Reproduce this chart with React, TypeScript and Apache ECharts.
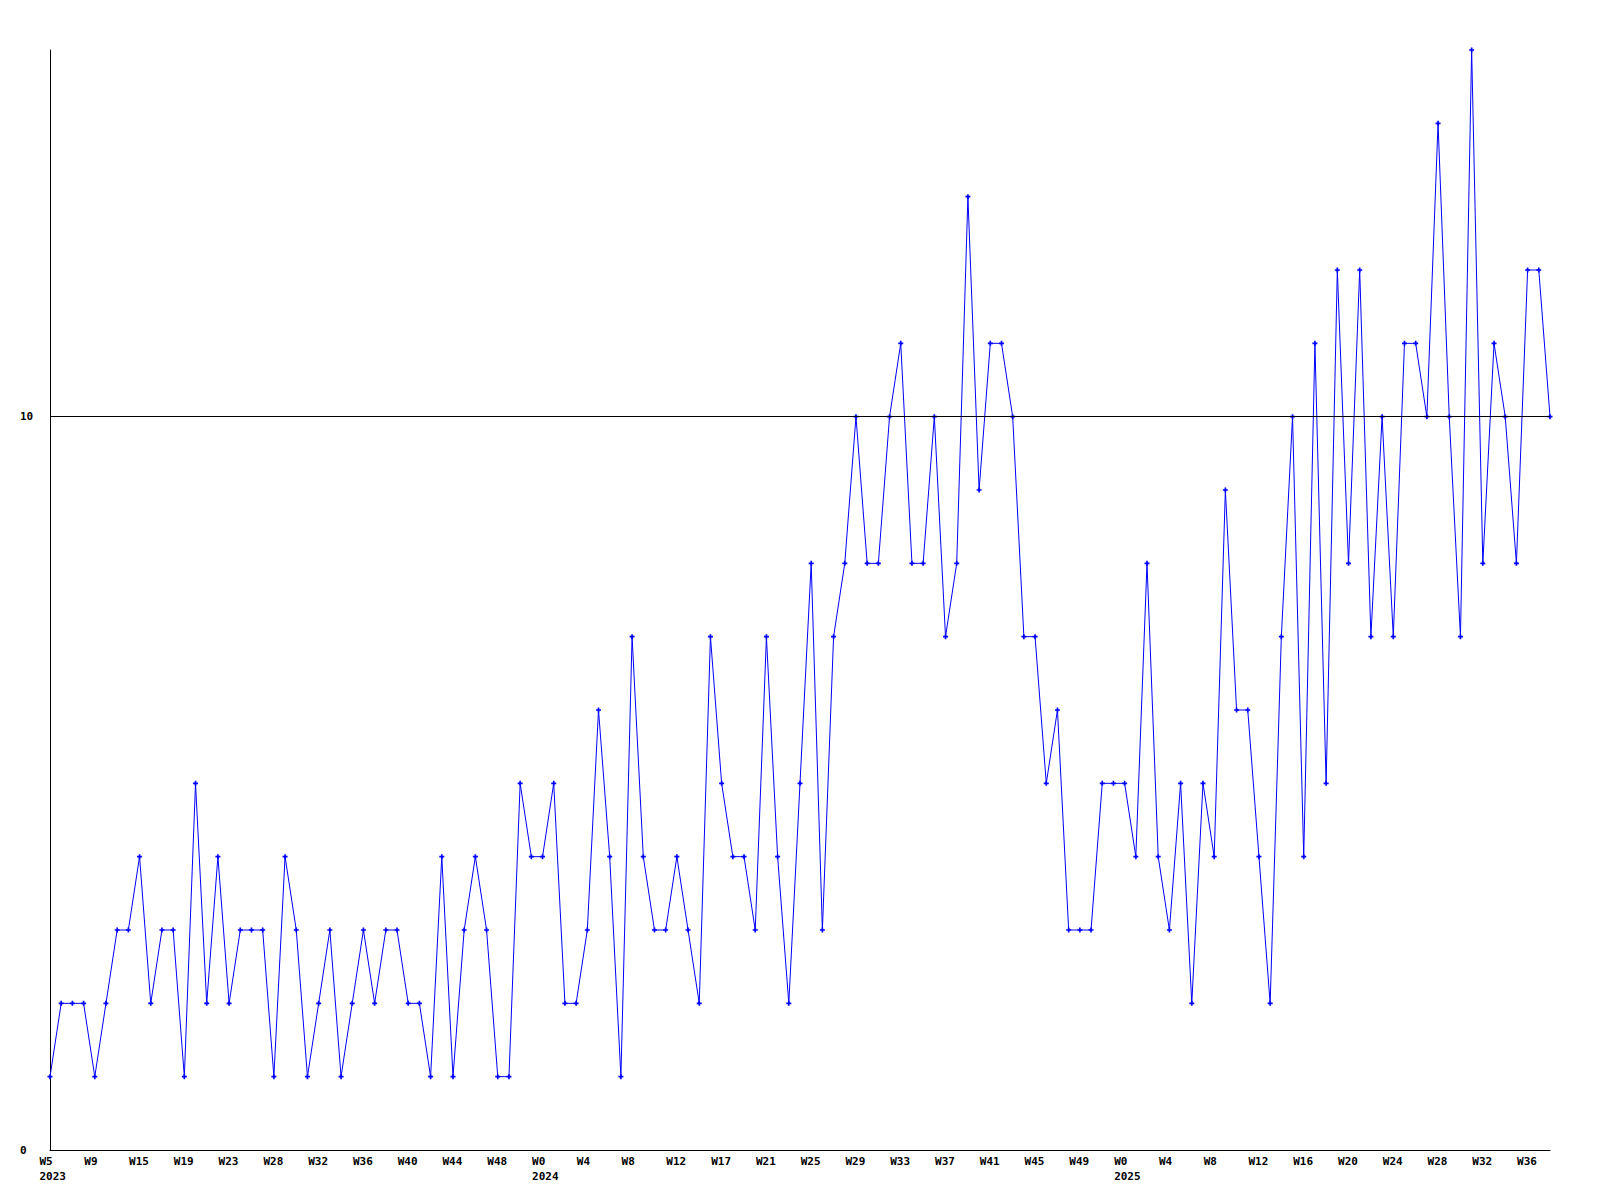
import React, { useEffect, useRef } from "react";
import * as echarts from "echarts";

// Weekly values (one per point, left to right)
const values: number[] = [
  1, 2, 2, 2, 1, 2, 3, 3, 4, 2, 3, 3, 1, 5, 2, 4, 2, 3, 3, 3,
  1, 4, 3, 1, 2, 3, 1, 2, 3, 2, 3, 3, 2, 2, 1, 4, 1, 3, 4, 3,
  1, 1, 5, 4, 4, 5, 2, 2, 3, 6, 4, 1, 7, 4, 3, 3, 4, 3, 2, 7,
  5, 4, 4, 3, 7, 4, 2, 5, 8, 3, 7, 8, 10, 8, 8, 10, 11, 8, 8, 10,
  7, 8, 13, 9, 11, 11, 10, 7, 7, 5, 6, 3, 3, 3, 5, 5, 5, 4, 8, 4,
  3, 5, 2, 5, 4, 9, 6, 6, 4, 2, 7, 10, 4, 11, 5, 12, 8, 12, 7, 10,
  7, 11, 11, 10, 14, 10, 7, 15, 8, 11, 10, 8, 12, 12, 10,
];

// Tick labels shown every 4th point
const tickLabels: string[] = [
  "W5\n2023", "W9", "W15", "W19", "W23", "W28", "W32", "W36", "W40", "W44", "W48",
  "W0\n2024", "W4", "W8", "W12", "W17", "W21", "W25", "W29", "W33", "W37", "W41", "W45", "W49",
  "W0\n2025", "W4", "W8", "W12", "W16", "W20", "W24", "W28", "W32", "W36",
];

const categories: string[] = values.map((_, i) => String(i));
const refLine = 10;

export default function App() {
  const ref = useRef<HTMLDivElement>(null);
  useEffect(() => {
    if (!ref.current) return;
    const chart = echarts.init(ref.current, undefined, { renderer: "svg" });
    const font = "'DejaVu Sans Mono', monospace";
    chart.setOption({
      animation: false,
      backgroundColor: "#ffffff",
      grid: { left: 50, right: 50, top: 50, bottom: 50, containLabel: false },
      xAxis: {
        type: "category",
        data: categories,
        boundaryGap: false,
        axisLine: { show: true, lineStyle: { color: "#000", width: 1 } },
        axisTick: { show: false },
        splitLine: { show: false },
        axisLabel: {
          interval: 3,
          formatter: (_v: string, idx: number) => tickLabels[idx / 4] ?? "",
          align: "left",
          verticalAlign: "top",
          padding: [0, 0, 0, -10.5],
          margin: 4,
          lineHeight: 15,
          color: "#000",
          fontFamily: font,
          fontWeight: "bold",
          fontSize: 11,
        },
      },
      yAxis: {
        type: "value",
        min: 0,
        max: 15,
        interval: 10,
        axisLine: { show: true, lineStyle: { color: "#000", width: 1 } },
        axisTick: { show: false },
        splitLine: { show: false },
        axisLabel: {
          showMaxLabel: false,
          align: "left",
          margin: 30,
          color: "#000",
          fontFamily: font,
          fontWeight: "bold",
          fontSize: 11,
        },
      },
      series: [
        {
          type: "line",
          data: values,
          showAllSymbol: true,
          symbol: "path://M2,0H4V2H6V4H4V6H2V4H0V2H2Z",
          symbolSize: 5,
          itemStyle: { color: "#0000ff" },
          lineStyle: { color: "#0000ff", width: 1 },
          markLine: {
            silent: true,
            symbol: "none",
            label: { show: false },
            lineStyle: { color: "#000", width: 1, type: "solid" },
            data: [{ yAxis: refLine }],
          },
        },
      ],
    });
    return () => chart.dispose();
  }, []);
  return (
    <div
      ref={ref}
      style={{ position: "absolute", left: 0, top: 0, width: 1600, height: 1200 }}
    />
  );
}
